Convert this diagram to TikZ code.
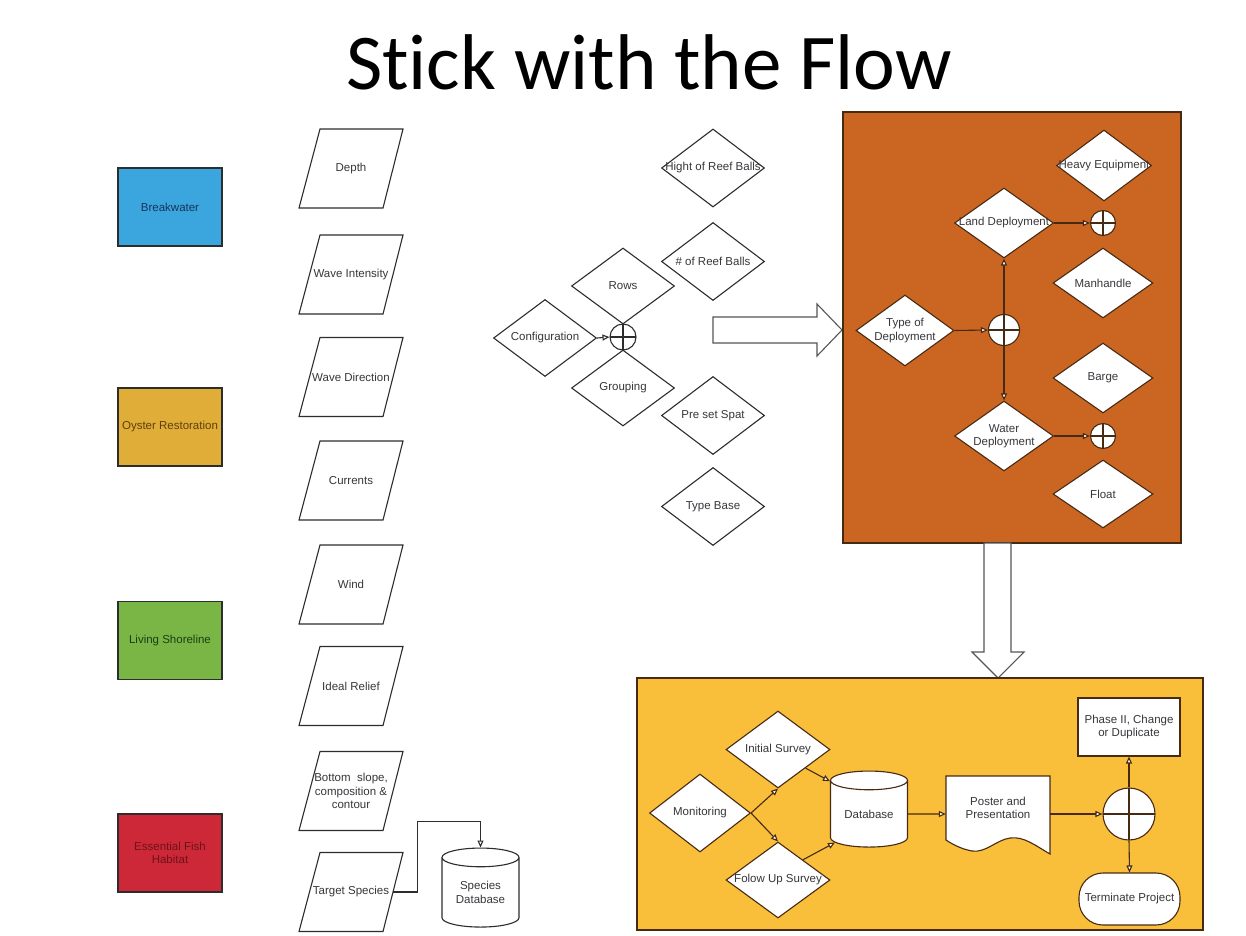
\documentclass[tikz,border=0pt]{standalone}
\usepackage{fontspec}
\setmainfont{Liberation Sans}
\newfontfamily\titlefont[Ligatures={CommonOff,ContextualOff}]{Carlito}
\usetikzlibrary{shapes.geometric,arrows.meta,calc}
\definecolor{lnc}{RGB}{45,45,45}
\definecolor{brn}{RGB}{70,42,18}
\definecolor{txtc}{RGB}{55,55,60}
\definecolor{blueF}{RGB}{58,166,221}
\definecolor{blueT}{RGB}{22,52,92}
\definecolor{oysF}{RGB}{224,174,56}
\definecolor{oysT}{RGB}{95,62,12}
\definecolor{grnF}{RGB}{122,182,70}
\definecolor{grnT}{RGB}{28,62,20}
\definecolor{redF}{RGB}{205,40,56}
\definecolor{redT}{RGB}{110,18,26}
\definecolor{orgF}{RGB}{203,102,34}
\definecolor{ylwF}{RGB}{249,190,58}
\definecolor{arrG}{RGB}{85,85,85}
\begin{document}
\begin{tikzpicture}[x=1pt,y=-1pt,
  every node/.style={font=\fontsize{11.5}{13.5}\selectfont, text=txtc},
  lbl/.style={font=\fontsize{11.5}{13.5}\selectfont, text=txtc, align=center},
  dmd/.style={diamond, draw=lnc, fill=white, line width=1.1pt, inner sep=0pt, minimum width=103, minimum height=78},
  odmd/.style={dmd, draw=brn},
  ptxt/.style={rectangle, inner sep=0pt, minimum width=83, minimum height=79, align=center},
  pline/.style={draw=lnc, line width=1.1pt},
  cbox/.style={rectangle, draw=lnc, line width=1.1pt, minimum width=104, minimum height=78, inner sep=1pt, align=center},
  junc/.style 2 args={circle, draw=#2, fill=white, line width=1.1pt, inner sep=0pt, minimum size=#1, path picture={\draw[#2, line width=1.1pt] (path picture bounding box.north) -- (path picture bounding box.south) (path picture bounding box.west) -- (path picture bounding box.east);}},
  arr/.style={draw=#1, line width=1.1pt, -{Triangle[length=7pt,width=6pt,fill=white]}},
  arr/.default=lnc,
  blockarrow/.style={draw=arrG, fill=white, line width=1.1pt},
  dbase/.style={cylinder, shape border rotate=90, aspect=0.38, draw=#1, fill=white, line width=1.1pt, inner sep=0pt, align=center},
  dbase/.default=lnc
]
\useasboundingbox (0,0) rectangle (1246,935);
\fill[white] (0,0) rectangle (1246,935);

% title
\node[font=\titlefont\fontsize{79}{82}\selectfont, text=black, anchor=base] (title) at (649,89) {Stick with the Flow};

% left colored boxes
\node[cbox, fill=blueF, text=blueT] (bw) at (170,207) {Breakwater};
\node[cbox, fill=oysF, text=oysT] (oy) at (170,427) {Oyster Restoration};
\node[cbox, fill=grnF, text=grnT] (ls) at (170,640.5) {Living Shoreline};
\node[cbox, fill=redF, text=redT] (ef) at (170,853) {Essential Fish\\Habitat};

% parallelograms
\foreach \nm/\yy in {p1/168.5, p2/274.5, p3/377, p4/480.5, p5/584.5, p6/686, p7/791, p8/892}{
  \draw[pline, shift={(351,\yy)}] (-31,-39.5) -- (52,-39.5) -- (32,39.5) -- (-52,39.5) -- cycle;
}
\node[ptxt] (p1) at (351,168.5) {Depth};
\node[ptxt] (p2) at (351,274.5) {Wave Intensity};
\node[ptxt] (p3) at (351,377) {Wave Direction};
\node[ptxt] (p4) at (351,480.5) {Currents};
\node[ptxt] (p5) at (351,584.5) {Wind};
\node[ptxt] (p6) at (351,686) {Ideal Relief};
\node[ptxt] (p7) at (351,791) {Bottom\ \ slope,\\composition \&\\contour};
\node[ptxt] (p8) at (351,892) {Target Species};

% species database
\node[dbase, minimum width=77, minimum height=79] (sdb) at (480.5,892.5) {Species\\Database};
\draw[arr] (p8.east) -- ++(25,0) |- ($(sdb.north)+(0,-26)$) -- (sdb.north);

% middle diamonds
\node[dmd, label={[lbl]center:Hight of Reef Balls}] (hr) at (713,168) {};
\node[dmd, label={[lbl]center:\# of Reef Balls}] (nr) at (713,261.5) {};
\node[dmd, minimum height=76, label={[lbl]center:Rows}] (rw) at (623,286) {};
\node[dmd, minimum height=77, label={[lbl]center:Configuration}] (cf) at (545,338) {};
\node[junc={26}{lnc}] (jc) at (623,337) {};
\node[dmd, minimum height=76, label={[lbl]center:Grouping}] (gr) at (623,388) {};
\node[dmd, label={[lbl]center:Pre set Spat}] (ps) at (713,415.5) {};
\node[dmd, label={[lbl]center:Type Base}] (tb) at (713,506.5) {};
\draw[arr] (cf.east) -- (jc.west);

% block arrow right
\draw[blockarrow] (713,317) -- (817,317) -- (817,304) -- (842,330) -- (817,356) -- (817,343) -- (713,343) -- cycle;

% orange box
\draw[draw=brn, fill=orgF, line width=1.1pt] (843,112) rectangle (1181,543);
\node[odmd, minimum width=95, minimum height=71, label={[lbl]center:Heavy Equipment}] (he) at (1104,165.5) {};
\node[odmd, minimum width=99, minimum height=70, label={[lbl]center:Land Deployment}] (ld) at (1004,223) {};
\node[junc={25}{brn}] (c1) at (1103,223) {};
\node[odmd, minimum width=100, minimum height=70, label={[lbl]center:Manhandle}] (mh) at (1103,283) {};
\node[odmd, minimum width=98, minimum height=71, label={[lbl]center:Type of\\Deployment}] (td) at (905,330.5) {};
\node[junc={31}{brn}] (oc) at (1004,330) {};
\node[odmd, minimum width=100, minimum height=70, label={[lbl]center:Barge}] (bg) at (1103,378) {};
\node[odmd, minimum width=99, minimum height=70, label={[lbl]center:Water\\Deployment}] (wd) at (1004,436) {};
\node[junc={25}{brn}] (c2) at (1103,436) {};
\node[odmd, minimum width=100, minimum height=68, label={[lbl]center:Float}] (fl) at (1103,494) {};
\draw[arr=brn] (td.east) -- (oc.west);
\draw[arr=brn] (oc.north) -- (ld.south);
\draw[arr=brn] (oc.south) -- (wd.north);
\draw[arr=brn] (ld.east) -- (c1.west);
\draw[arr=brn] (wd.east) -- (c2.west);

% block arrow down
\draw[blockarrow] (984,543) -- (1011,543) -- (1011,652) -- (1024,652) -- (998,678) -- (972,652) -- (984,652) -- cycle;

% yellow box
\draw[draw=brn, fill=ylwF, line width=1.1pt] (637,678) rectangle (1203,930);
\node[odmd, minimum width=101, minimum height=78, label={[lbl]center:Monitoring}] (mo) at (700,813) {};
\node[odmd, minimum width=104, minimum height=77, label={[lbl]center:Initial Survey}] (is) at (778,749.5) {};
\node[odmd, minimum width=104, minimum height=76, label={[lbl]center:Folow Up Survey}] (fu) at (778,880) {};
\node[dbase=brn, minimum width=77, minimum height=76] (db) at (869,814) {Database};
\draw[draw=brn, fill=white, line width=1.1pt] (946,776) -- (1050,776) -- (1050,854)
  .. controls (1036,846) and (1024,836) .. (1010,838)
  .. controls (996,840) and (986,853) .. (972,851)
  .. controls (961,849) and (952,844) .. (946,840) -- cycle;
\node[minimum width=104, minimum height=66, inner sep=0pt, label={[lbl, yshift=6pt]center:Poster and\\Presentation}] (po) at (998,814) {};
\node[junc={52}{brn}] (yc) at (1129,814) {};
\node[rectangle, draw=brn, fill=white, line width=1.1pt, minimum width=102, minimum height=58, inner sep=1pt, align=center] (ph) at (1129,727) {Phase II, Change\\or Duplicate};
\node[rectangle, rounded corners=24pt, draw=brn, fill=white, line width=1.1pt, minimum width=101, minimum height=52, inner sep=1pt] (tp) at (1129.5,899) {Terminate Project};
\draw[arr=brn] (mo.east) -- (is.south);
\draw[arr=brn] (mo.east) -- (fu.north);
\draw[arr=brn] (is.-34) -- (db.140);
\draw[arr=brn] (fu.39) -- (db.-140);
\draw[arr=brn] (db.east) -- (po.west);
\draw[arr=brn] (po.east) -- (yc.west);
\draw[arr=brn] (yc.north) -- (ph.south);
\draw[arr=brn] (yc.south) -- (tp.north);
\end{tikzpicture}
\end{document}
